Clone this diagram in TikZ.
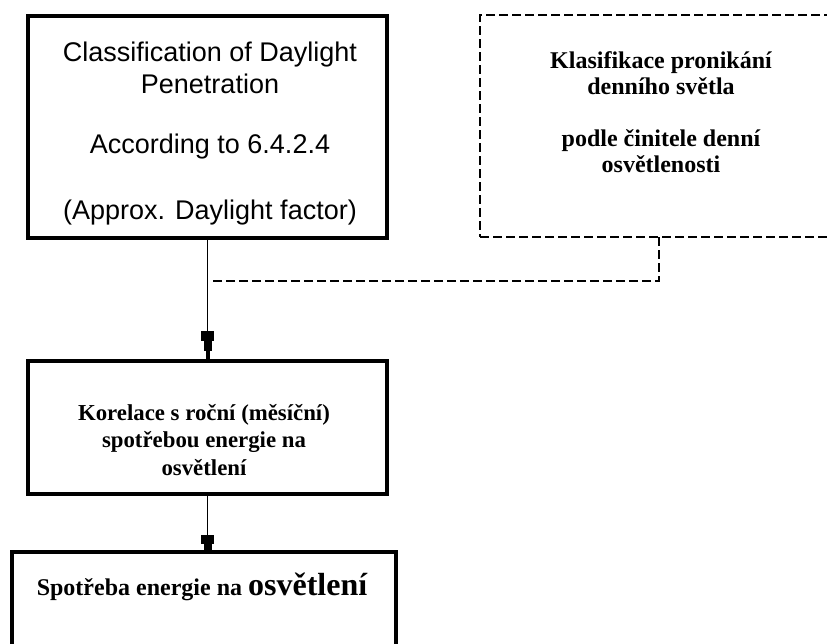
\documentclass[tikz,border=0pt]{standalone}
\usepackage{fontspec}
\setmainfont{Liberation Serif}
\newfontfamily\arialfont{Liberation Sans}
\usetikzlibrary{arrows.meta}
\begin{document}
\begin{tikzpicture}[x=0.5pt,y=-0.5pt,
  solidbox/.style={draw,line width=1.75pt,inner sep=0pt,outer sep=0pt},
  dashbox/.style={draw,line width=0.8pt,dash pattern=on 4.5pt off 2pt,inner sep=0pt,outer sep=0pt},
  link/.style={line width=0.85pt},
  dashlink/.style={line width=0.8pt,dash pattern=on 4.5pt off 2pt},
  tipA/.style={-{Square[length=5pt,width=6.5pt,sep=0pt]Square[length=5pt,width=4pt,sep=0pt]Square[length=5pt,width=2pt,sep=0pt]}},
  tipB/.style={-{Square[length=4.5pt,width=6.5pt,sep=0pt]Square[length=4pt,width=4pt,sep=0pt]}},
  sanstext/.style={align=center,font=\arialfont\fontsize{13.5}{16}\selectfont,inner sep=0pt},
  serifbold/.style={align=center,font=\bfseries\fontsize{12}{13}\selectfont,inner sep=0pt}]
\useasboundingbox (0,0) rectangle (827,644);
\clip (0,0) rectangle (827,644);
\fill[white] (0,0) rectangle (827,644);
% boxes
\node[solidbox,minimum width=179.5pt,minimum height=111pt] (b1) at (207.5,127) {};
\node[dashbox,minimum width=179pt,minimum height=111pt] (b2) at (659,126) {};
\node[solidbox,minimum width=179.5pt,minimum height=66.5pt] (b3) at (207.5,427.5) {};
\node[solidbox,minimum width=192pt,minimum height=74pt] (b4) at (204,626) {};
% texts
\node[sanstext] (t1) at (210,134) {Classification of Daylight\\Penetration\\[14pt]According to 6.4.2.4\\[17pt](Approx. Daylight factor)};
\node[serifbold] (t2) at (661,112) {Klasifikace pronikání\\denního světla\\[13pt]podle činitele denní\\osvětlenosti};
\node[serifbold,font=\bfseries\fontsize{11.4}{13.75}\selectfont] (t3) at (204,440) {Korelace s roční (měsíční)\\spotřebou energie na\\osvětlení};
\node[anchor=base,inner sep=0pt,font=\bfseries\fontsize{12}{14}\selectfont] (t4) at (202,595) {Spotřeba energie na {\fontsize{16}{18}\selectfont osvětlení}};
% connectors
\coordinate (j) at (213,281);
\draw[link,tipA] (b1.south) -- (b3.north);
\draw[link,tipB] (b3.south) -- (b3.south |- b4.north);
\draw[dashlink] (b2.south) |- (j);
\end{tikzpicture}
\end{document}
